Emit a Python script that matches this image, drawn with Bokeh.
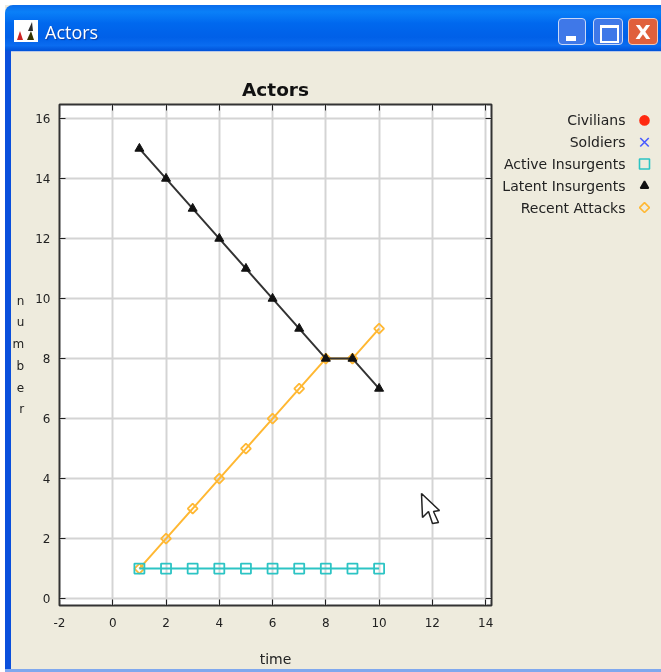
from math import pi
from bokeh.plotting import figure
from bokeh.embed import file_html
from bokeh.resources import INLINE
from bokeh.layouts import column
from bokeh.models import (Range1d, FactorRange, LinearAxis, FixedTicker, PolyAnnotation,
                          ColumnDataSource, Div)

time = [1, 2, 3, 4, 5, 6, 7, 8, 9, 10]
active_insurgents = [1, 1, 1, 1, 1, 1, 1, 1, 1, 1]
latent_insurgents = [15, 14, 13, 12, 11, 10, 9, 8, 8, 7]
recent_attacks = [1, 2, 3, 4, 5, 6, 7, 8, 8, 9]
x_ticks = [-2, 0, 2, 4, 6, 8, 10, 12, 14]
y_ticks = [0, 2, 4, 6, 8, 10, 12, 14, 16]
legend_labels = ["Civilians", "Soldiers", "Active Insurgents", "Latent Insurgents", "Recent Attacks"]
legend_markers = ["circle", "x", "square", "triangle", "square"]
legend_angles = [0, 0, 0, 0, pi / 4]
legend_colors = ["#FF2A10", "#4A5CFF", "#2CC4C4", "#111111", "#FFB833"]
legend_fill = [1, 0, 0, 1, 0]
legend_sizes = [9, 12, 10, 8, 7]

BG = "#EEEBDD"
FONT = "DejaVu Sans"
TEXT = "#222222"
ORANGE, CYAN, BLACK = legend_colors[4], legend_colors[2], legend_colors[3]
FIXED = {"position": "fixed", "left": "0", "top": "0"}

p = figure(width=661, height=672, output_backend="svg", toolbar_location=None,
           x_range=Range1d(-2.0, 14.22), y_range=Range1d(-0.23, 16.47),
           min_border_left=59, min_border_right=170, min_border_top=104, min_border_bottom=67,
           title="Actors", x_axis_label="time", y_axis_label="n\nu\nm\nb\ne\nr", frame_align=False,
           background_fill_color="white", border_fill_color=BG)
p.styles = dict(FIXED)

p.title.align = "center"
p.title.text_font = FONT
p.title.text_font_size = "18.5px"
p.title.text_font_style = "bold"
p.title.text_color = "#111111"
p.title.standoff = 9

p.outline_line_color = "#333333"
p.outline_line_width = 2

for ax in (p.xaxis[0], p.yaxis[0]):
    ax.major_tick_in = 6
    ax.major_tick_out = 0
    ax.minor_tick_line_color = None
    ax.major_tick_line_color = "#222222"
    ax.axis_line_color = "#333333"
    ax.major_label_text_font = FONT
    ax.major_label_text_font_size = "12px"
    ax.major_label_text_color = TEXT
    ax.axis_label_text_font = FONT
    ax.axis_label_text_font_style = "normal"
    ax.axis_label_text_color = TEXT
p.xaxis[0].axis_label_text_font_size = "14px"
p.yaxis[0].axis_label_text_font_size = "12px"
p.xaxis[0].ticker = FixedTicker(ticks=x_ticks)
p.yaxis[0].ticker = FixedTicker(ticks=y_ticks)
p.xaxis[0].major_label_overrides = {-2: "-2"}
p.xaxis[0].major_label_standoff = 12
p.xaxis[0].axis_label_standoff = 21
p.yaxis[0].major_label_standoff = 9
p.yaxis[0].axis_label_orientation = "horizontal"
p.yaxis[0].axis_label_standoff = 8
p.yaxis[0].axis_label_text_line_height = 1.55

for ticks, side in ((y_ticks, "right"), (x_ticks, "above")):
    a = LinearAxis(ticker=FixedTicker(ticks=ticks), major_label_text_alpha=0,
                   major_label_text_font_size="1px",
                   major_tick_in=6, major_tick_out=0, minor_tick_line_color=None,
                   major_tick_line_color="#222222", axis_line_color="#333333",
                   major_label_standoff=0)
    p.add_layout(a, side)

p.grid.grid_line_color = "#D4D4D4"
p.grid.grid_line_width = 2
p.xgrid.ticker = FixedTicker(ticks=x_ticks)
p.ygrid.ticker = FixedTicker(ticks=y_ticks)

p.line(time, recent_attacks, line_color=ORANGE, line_width=2)
p.scatter(time, recent_attacks, marker="square", angle=pi / 4, size=7, fill_color=None,
          line_color=ORANGE, line_width=1.8)
p.line(time, active_insurgents, line_color=CYAN, line_width=2)
p.scatter(time, active_insurgents, marker="square", size=10, fill_color=None,
          line_color=CYAN, line_width=1.8)
p.line(time, latent_insurgents, line_color="#333333", line_width=2)
p.scatter(time, latent_insurgents, marker="triangle", size=9, fill_color=BLACK, line_color=BLACK)

# Mouse pointer (screen units here count from the frame's lower left corner)
p.add_layout(PolyAnnotation(xs=[362, 363, 369, 373, 379, 374, 380],
                            ys=[112, 88, 94, 82, 83, 94, 95],
                            xs_units="screen", ys_units="screen", fill_color="white",
                            fill_alpha=1, line_color="#222222", line_alpha=1, line_width=1.5))

# Legend, with the marks to the right of the labels: a transparent overlay figure
lg = figure(width=661, height=672, output_backend="svg", toolbar_location=None,
            x_range=Range1d(0, 170), y_range=FactorRange(factors=legend_labels[::-1]),
            x_axis_location=None, y_axis_location=None, frame_align=False,
            min_border_left=491, min_border_right=0, min_border_top=109, min_border_bottom=454,
            background_fill_alpha=0, border_fill_alpha=0, outline_line_color=None)
lg.grid.visible = False
lg.styles = dict(FIXED)
src = ColumnDataSource(dict(label=legend_labels, marker=legend_markers, color=legend_colors,
                            fill=legend_fill, size=legend_sizes, angle=legend_angles,
                            mark_x=[153] * 5, text_x=[134] * 5))
lg.scatter("mark_x", "label", marker="marker", size="size", angle="angle", source=src,
           line_color="color", fill_color="color", fill_alpha="fill", line_width=1.6)
lg.text("text_x", "label", text="label", source=src, text_align="right", text_baseline="middle",
        text_font={"value": FONT}, text_font_size={"value": "14px"}, text_color=TEXT)

# Window chrome
chrome = """
<div style="position:absolute;left:0;top:0;width:661px;height:672px;pointer-events:none;overflow:hidden">
<div style="position:absolute;left:0;top:0;width:661px;height:5px;background:white"></div>
<div style="position:absolute;left:0;top:0;width:5px;height:672px;background:white"></div>
<div style="position:absolute;left:5px;top:40px;width:6px;height:632px;background:#0A4FDC"></div>
<div style="position:absolute;left:5px;top:669px;width:656px;height:3px;background:#7FA8EE"></div>
<div style="position:absolute;left:5px;top:5px;width:656px;height:46px;border-radius:8px 0 0 0;
background:linear-gradient(#0A6CEC 0%,#0A80F8 15%,#0068EE 40%,#0060E8 70%,#0A6CF0 88%,#0052D8 100%)"></div>
<div style="position:absolute;left:11px;top:51px;width:650px;height:1px;background:#B8C8E8"></div>
<svg style="position:absolute;left:14px;top:20px" width="24" height="22">
<rect width="24" height="22" fill="white"/>
<polygon points="14,11 18,2 19,11" fill="#2C2C2C"/><polygon points="3,20 6,11 9,20" fill="#CC2222"/>
<polygon points="13,20 17,11 20,20" fill="#333300"/></svg>
<div style="position:absolute;left:45px;top:19px;color:white;font:18px 'Open Sans';line-height:26px;
text-shadow:1px 1px 1px #0A3CA0">Actors</div>
<div style="position:absolute;left:558px;top:18px;width:28px;height:27px;border:1px solid #C8D8F8;
border-radius:4px;background:#3F78E8"></div>
<div style="position:absolute;left:566px;top:36px;width:10px;height:5px;background:white"></div>
<div style="position:absolute;left:593px;top:18px;width:30px;height:27px;border:1px solid #C8D8F8;
border-radius:4px;background:#3F78E8"></div>
<div style="position:absolute;left:600px;top:25px;width:15px;height:13px;border:2px solid white;
border-top-width:3px;box-sizing:content-box"></div>
<div style="position:absolute;left:628px;top:18px;width:30px;height:27px;border:1px solid #F0C8B8;
border-radius:4px;background:#E0603C;color:white;font:bold 20px 'DejaVu Sans';line-height:27px;
text-align:center">X</div>
</div>
"""
div = Div(text=chrome, width=661, height=672, styles=dict(FIXED), margin=0)

open("out.html", "w").write(file_html(column(p, lg, div), INLINE))
